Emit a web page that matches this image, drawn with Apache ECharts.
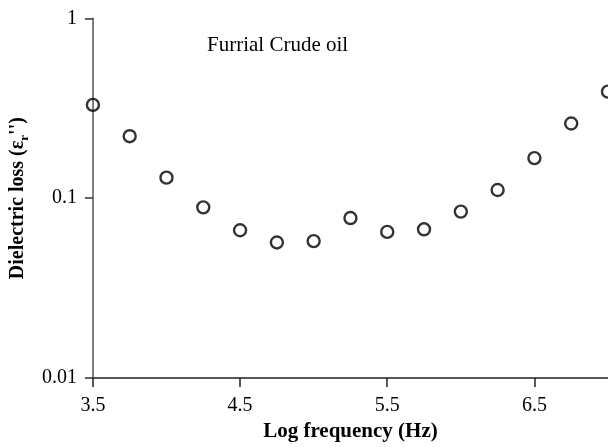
<!DOCTYPE html>
<html>
<head>
<meta charset="utf-8">
<script src="https://cdn.jsdelivr.net/npm/echarts@6/dist/echarts.min.js"></script>
<style>
html,body{margin:0;padding:0;background:#fff;}
#chart{width:608px;height:447px;}
</style>
</head>
<body>
<div id="chart"></div>
<script>
var logFrequency = [3.5, 3.75, 4.0, 4.25, 4.5, 4.75, 5.0, 5.25, 5.5, 5.75, 6.0, 6.25, 6.5, 6.75, 7.0];
var dielectricLoss = [0.330, 0.221, 0.130, 0.0889, 0.0663, 0.0567, 0.0577, 0.0775, 0.0649, 0.0671, 0.0842, 0.111, 0.167, 0.260, 0.391];
var xTickLabels = [3.5, 4.5, 5.5, 6.5];
var yTickLabels = [0.01, 0.1, 1];
var annotation = 'Furrial Crude oil';

var points = logFrequency.map(function (x, i) { return [x, dielectricLoss[i]]; });
var font = '"Liberation Serif", "Times New Roman", serif';

var chart = echarts.init(document.getElementById('chart'));
chart.setOption({
  animation: false,
  backgroundColor: '#fff',
  grid: { left: 87.7, right: -4.5, top: 18.3, bottom: 63.7, containLabel: false },
  xAxis: {
    type: 'value',
    min: 3.5,
    max: 7.0,
    name: 'Log frequency (Hz)',
    nameLocation: 'middle',
    nameGap: 43,
    nameTextStyle: { fontFamily: font, fontSize: 21, fontWeight: 'bold', color: '#000' },
    axisLine: { show: true, lineStyle: { color: '#222', width: 1.5 } },
    axisTick: { show: true, inside: false, length: 9, lineStyle: { color: '#222', width: 1.5 }, customValues: xTickLabels },
    axisLabel: { fontFamily: font, fontSize: 20, color: '#000', margin: 18, customValues: xTickLabels,
      formatter: function (v) { return v.toFixed(1); } },
    splitLine: { show: false },
    minorTick: { show: false }
  },
  yAxis: {
    type: 'log',
    logBase: 10,
    min: 0.01,
    max: 1,
    name: '{m|Dielectric loss (ε}{s|r}{m|\'\')}',
    nameLocation: 'middle',
    nameGap: 56,
    nameRotate: 90,
    nameTextStyle: {
      fontFamily: font, fontSize: 20, fontWeight: 'bold', color: '#000',
      rich: {
        m: { fontFamily: font, fontSize: 20, fontWeight: 'bold', color: '#000', lineHeight: 26 },
        s: { fontFamily: font, fontSize: 13, fontWeight: 'bold', color: '#000', lineHeight: 26, verticalAlign: 'bottom', padding: [8, 0, 0, 0] }
      }
    },
    axisLine: { show: true, lineStyle: { color: '#555', width: 1.5 } },
    axisTick: { show: true, inside: false, length: 8, lineStyle: { color: '#333', width: 1.5 }, customValues: yTickLabels },
    axisLabel: { fontFamily: font, fontSize: 20, color: '#000', margin: 16, customValues: yTickLabels,
      formatter: function (v) { return String(v); } },
    splitLine: { show: false },
    minorTick: { show: false }
  },
  graphic: [{
    type: 'text',
    left: 207,
    top: 35,
    style: { text: annotation, fontFamily: font, fontSize: 21, fill: '#000' }
  }],
  series: [{
    type: 'scatter',
    data: points,
    symbol: 'circle',
    symbolSize: 12,
    clip: false,
    itemStyle: { color: 'rgba(255,255,255,0)', borderColor: '#000', borderWidth: 2.4 }
  }]
});
</script>
</body>
</html>
